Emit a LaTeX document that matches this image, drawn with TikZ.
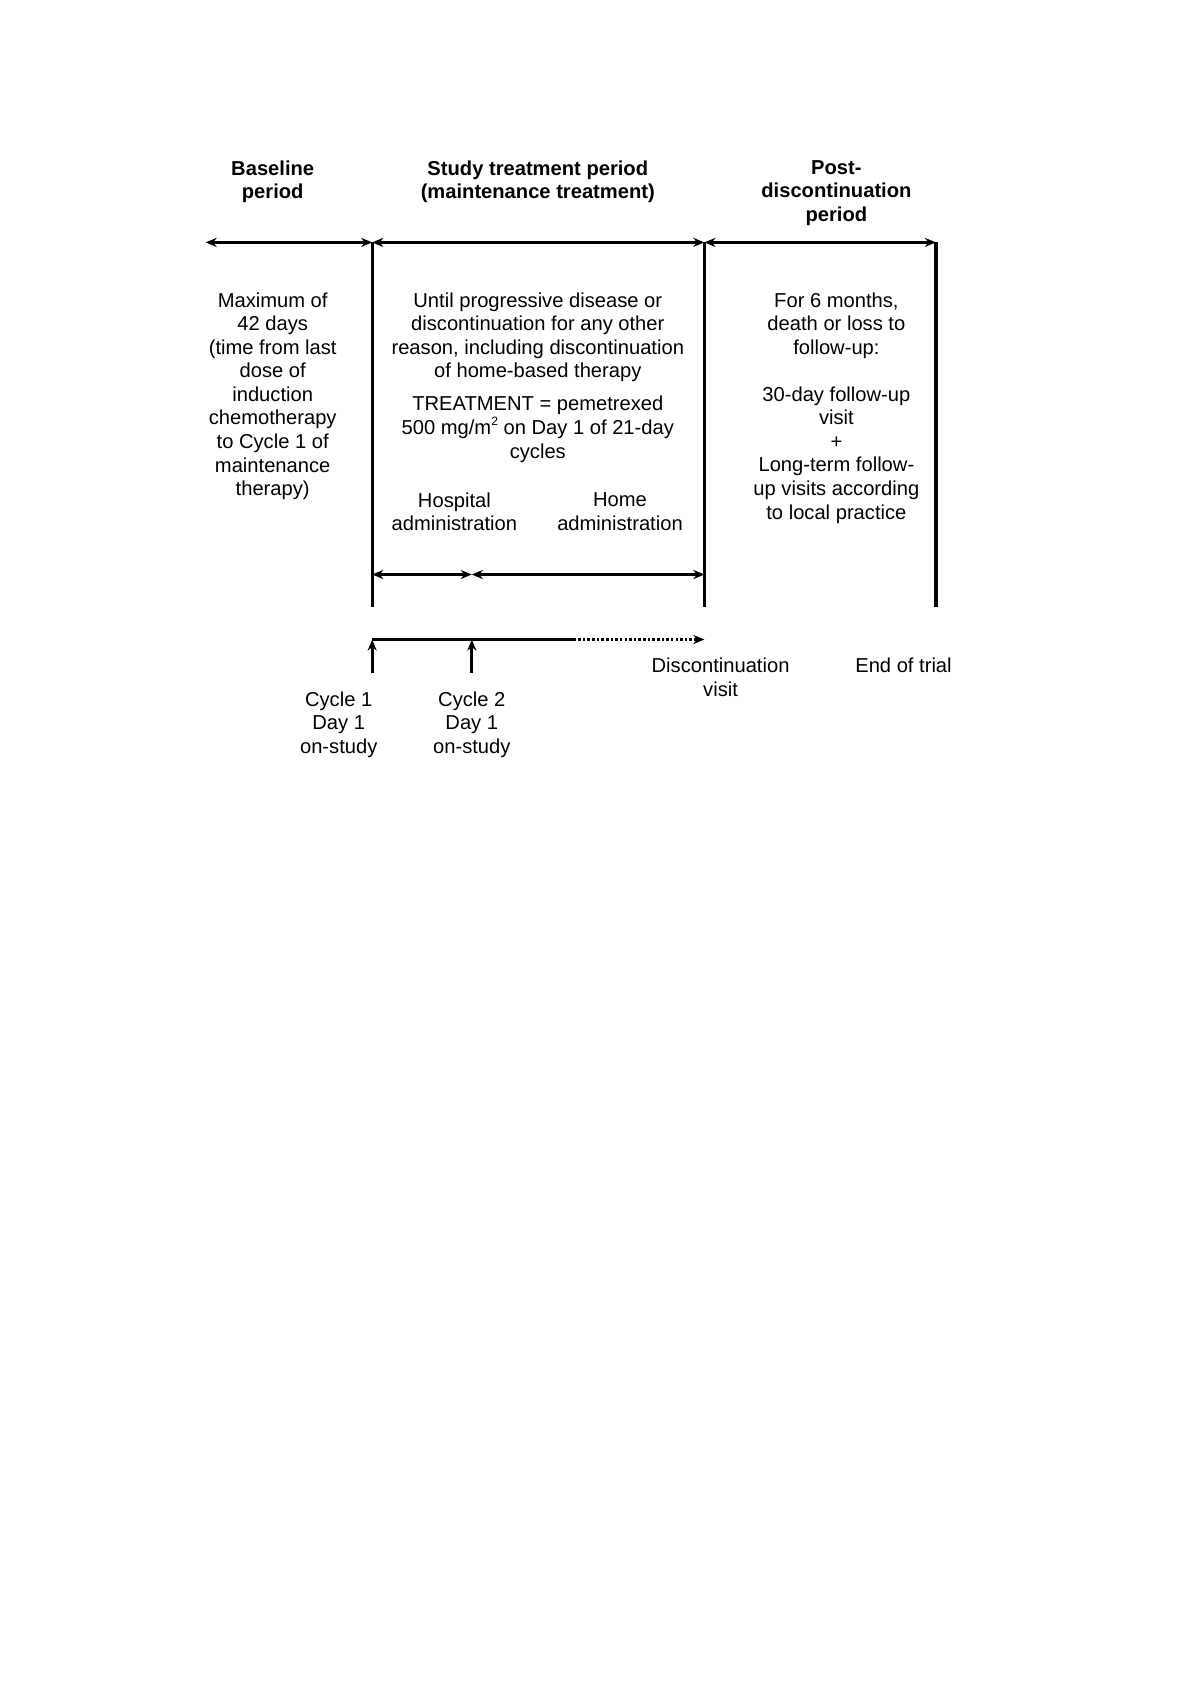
\documentclass[tikz,border=0pt]{standalone}
\usepackage{fontspec}
\setmainfont{Liberation Sans}
\usetikzlibrary{arrows.meta}

\begin{document}
\begin{tikzpicture}[
  x=0.4961pt, y=-0.4961pt,
  % Text Styles
  headnode/.style={anchor=north, align=center, inner sep=0pt, font=\fontsize{10}{11.7}\selectfont\bfseries},
  bodynode/.style={anchor=north, align=center, inner sep=0pt, font=\fontsize{10}{11.7}\selectfont},
  % Line Styles
  dblarrow/.style={{Stealth[length=5.5pt,width=4.5pt]}-{Stealth[length=5.5pt,width=4.5pt]}, line width=1.3pt},
  uparrow/.style={-{Stealth[length=5.5pt,width=4.5pt]}, line width=1.3pt},
  dotarrow/.style={-{Stealth[length=5.5pt,width=4.5pt]}, densely dotted, line width=1.3pt},
  vline/.style={line width=1.6pt}
]
\useasboundingbox (0,0) rectangle (1200,1697);

% Time axis
\coordinate (tA) at (205.6,242.4);
\coordinate (tB) at (372.2,242.4);
\coordinate (tC) at (704.4,242.4);
\coordinate (tD) at (935.9,242.4);
\coordinate (bB) at (372.2,607);
\coordinate (bC) at (704.4,607);
\coordinate (bD) at (935.9,607);
\draw[dblarrow] (tA) -- (tB);
\draw[dblarrow] (tB) -- (tC);
\draw[dblarrow] (tC) -- (tD);
\draw[vline] (tB) -- (bB);
\draw[vline] (tC) -- (bC);
\draw[vline] (tD) -- (bD);

% Headers
\node[headnode] (basehead) at (272.7,160) {Baseline\\period};
\node[headnode] (studyhead) at (537.8,160) {Study treatment period\\(maintenance treatment)};
\node[headnode] (posthead) at (836.4,160) {Post-\\discontinuation\\period};

% Period texts
\node[bodynode] (basetext) at (272.7,292) {Maximum of\\42 days\\(time from last\\dose of\\induction\\chemotherapy\\to Cycle 1 of\\maintenance\\therapy)};
\node[bodynode] (untiltext) at (537.8,292) {Until progressive disease or\\discontinuation for any other\\reason, including discontinuation\\of home-based therapy};
\node[bodynode] (treattext) at (537.8,395.9) {TREATMENT = pemetrexed\\500 mg/m\raisebox{0.45em}{\fontsize{6}{6}\selectfont 2} on Day 1 of 21-day\\cycles};
\node[bodynode] (hosptext) at (454.4,492.2) {Hospital\\administration};
\node[bodynode] (hometext) at (620,492.2) {Home\\administration};
\node[bodynode] (posttext) at (836.4,292) {For 6 months,\\death or loss to\\follow-up:};
\node[bodynode] (followtext) at (836.4,386.1) {30-day follow-up\\visit\\+\\Long-term follow-\\up visits according\\to local practice};

% Administration arrows
\coordinate (hL) at (372.2,574.5);
\coordinate (hM) at (471.8,574.5);
\coordinate (hR) at (704.4,574.5);
\draw[dblarrow] (hL) -- (hM);
\draw[dblarrow] (hM) -- (hR);

% Cycle timeline
\coordinate (c1) at (372.2,639.5);
\coordinate (c2) at (471.8,639.5);
\coordinate (cd) at (573.5,639.5);
\coordinate (ce) at (704.4,639.5);
\coordinate (c1b) at (372.2,673);
\coordinate (c2b) at (471.8,673);
\draw[line width=1.3pt] (c1) -- (cd);
\draw[dotarrow] (cd) -- (ce);
\draw[uparrow] (c1b) -- (c1);
\draw[uparrow] (c2b) -- (c2);

% Visit labels
\node[bodynode] (disctext) at (720.6,657.7) {Discontinuation\\visit};
\node[bodynode] (endtext) at (903.5,657.7) {End of trial};
\node[bodynode] (cyc1text) at (338.7,691.3) {Cycle 1\\Day 1\\on-study};
\node[bodynode] (cyc2text) at (471.8,691.3) {Cycle 2\\Day 1\\on-study};
\end{tikzpicture}
\end{document}
